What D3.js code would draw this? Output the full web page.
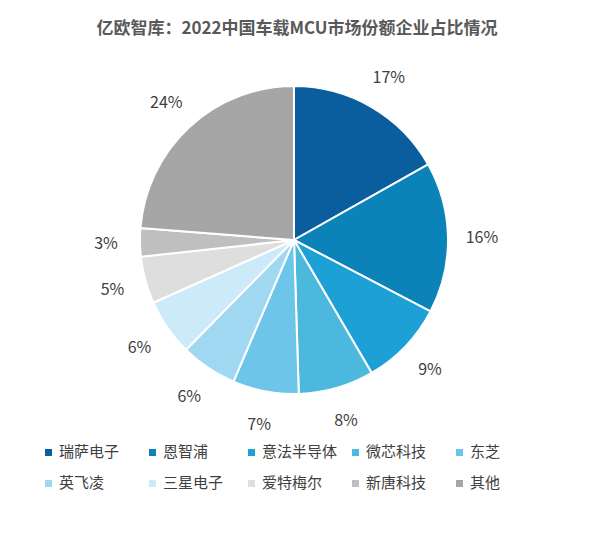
<!DOCTYPE html><html><head><meta charset="utf-8"><script src="https://cdn.jsdelivr.net/npm/d3@7"></script>
<style>body{margin:0;background:#fff}</style></head><body><svg id="c" width="595" height="540"></svg>
<script>
const categories=["瑞萨电子","恩智浦","意法半导体","微芯科技","东芝","英飞凌","三星电子","爱特梅尔","新唐科技","其他"];
const values=[17,16,9,8,7,6,6,5,3,24];
const labels=["17%","16%","9%","8%","7%","6%","6%","5%","3%","24%"];
const colors=["#0a5e9e","#0b82b8","#1ca0d5","#4cb8de","#6dc6ea","#a0d8f2","#cdeaf8","#dedede","#bfbfbf","#a6a6a6"];
const svg=d3.select("#c");
const font="'Noto Sans CJK SC','Noto Sans',sans-serif";
svg.append("text").attr("x",297).attr("y",34).attr("text-anchor","middle").attr("font-family",font)
 .attr("font-weight","bold").attr("font-size",17).attr("fill","#595959").text("亿欧智库：2022中国车载MCU市场份额企业占比情况");
const cx=294,cy=240,r=154;
const pie=d3.pie().sort(null).value(d=>d)(values);
const arc=d3.arc().innerRadius(0).outerRadius(r);
const lab=d3.arc().innerRadius(188).outerRadius(188);
const g=svg.append("g").attr("transform",`translate(${cx},${cy})`);
g.selectAll("path").data(pie).join("path").attr("d",arc).attr("fill",(d,i)=>colors[i]).attr("stroke","#fff").attr("stroke-width",2);
g.selectAll("text").data(pie).join("text").attr("transform",d=>`translate(${lab.centroid(d)})`)
 .attr("text-anchor","middle").attr("dy","0.35em").attr("font-family",font).attr("font-size",16).attr("fill","#404040").text((d,i)=>labels[i]);
const xs=[48,152,251,355,459];
const lg=svg.append("g");
categories.forEach((c,i)=>{
 const x=xs[i%5],y=i<5?452:483;
 lg.append("rect").attr("x",x-3).attr("y",y-3).attr("width",7).attr("height",7).attr("fill",colors[i]);
 lg.append("text").attr("x",x+11).attr("y",y).attr("dy","0.35em").attr("font-family",font).attr("font-size",15).attr("fill","#404040").text(c);
});
</script></body></html>
